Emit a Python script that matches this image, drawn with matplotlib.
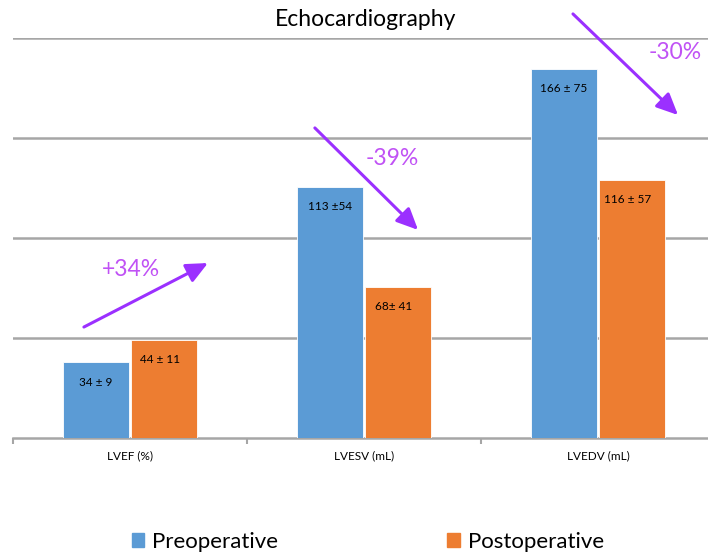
import matplotlib
matplotlib.use("Agg")
import matplotlib.pyplot as plt
import numpy as np
from matplotlib.patches import Patch

categories = ["LVEF (%)", "LVESV (mL)", "LVEDV (mL)"]
pre_values = [34, 113, 166]
post_values = [44, 68, 116]
pre_labels = ["34 \u00b1 9", "113 \u00b154", "166 \u00b1 75"]
post_labels = ["44 \u00b1 11", "68\u00b1 41", "116 \u00b1 57"]
change_labels = ["+34%", "-39%", "-30%"]
series_names = ["Preoperative", "Postoperative"]

plt.rcParams['font.family'] = ['Lato', 'DejaVu Sans']

fig = plt.figure(figsize=(7.08, 5.53), dpi=100)
ax = fig.add_axes([13/708, (553-437.7)/553, 702/708, 400/553])

blue = "#5B9BD5"
orange = "#ED7D31"
x = np.arange(len(categories))
w = 0.28
off = 0.145
ax.bar(x - off, pre_values, w, color=blue, edgecolor="white", linewidth=0.6, zorder=3)
ax.bar(x + off, post_values, w, color=orange, edgecolor="white", linewidth=0.6, zorder=3)

for i in range(len(categories)):
    ax.annotate(pre_labels[i], (x[i] - off, pre_values[i]), xytext=(0, -20),
                textcoords="offset pixels", ha="center", va="center", fontsize=8.5, color="black", zorder=4)
    ax.annotate(post_labels[i], (x[i] + off, post_values[i]), xytext=(-4, -20),
                textcoords="offset pixels", ha="center", va="center", fontsize=8.5, color="black", zorder=4)

ax.set_xlim(-0.5, 2.5)
ax.set_ylim(0, 180)
ax.set_yticks([45, 90, 135, 180])
ax.yaxis.grid(True, color="#A6A6A6", linewidth=1.8, zorder=0)
ax.tick_params(axis="y", length=0, labelleft=False)
for s in ["left", "right", "top"]:
    ax.spines[s].set_visible(False)
ax.spines["bottom"].set_color("#A6A6A6")
ax.spines["bottom"].set_linewidth(1.8)
ax.set_xticks(x)
ax.set_xticklabels(categories, fontsize=8.5)
ax.tick_params(axis="x", which="major", length=0, pad=9)
ax.set_xticks([-0.5, 0.5, 1.5, 2.5], minor=True)
ax.tick_params(axis="x", which="minor", length=4, width=1.5, color="#A6A6A6")

fig.text(366/708, 1 - 20/553, "Echocardiography", ha="center", va="center", fontsize=16.5)

arrow_color = "#9B30FF"
text_color = "#C052F5"
arrows = [((-0.197, 49.8), (0.333, 78.6)),
          ((0.79, 139.4), (1.231, 93.5)),
          ((1.893, 190.7), (2.342, 145.2))]
text_pos = [(0.004, 75.5), (1.12, 125.8), (2.33, 173.5)]
for (start, end), tp, lab in zip(arrows, text_pos, change_labels):
    ax.annotate("", xy=end, xytext=start, annotation_clip=False,
                arrowprops=dict(arrowstyle="-|>,head_length=1.3,head_width=0.6",
                                color=arrow_color, lw=2.2, shrinkA=0, shrinkB=0), zorder=5)
    ax.text(tp[0], tp[1], lab, ha="center", va="center", fontsize=16.5, color=text_color, zorder=5)

handles = [Patch(color=blue), Patch(color=orange)]
fig.legend(handles, series_names, loc="center", bbox_to_anchor=(368/708, 1 - 542/553),
           ncol=2, frameon=False, fontsize=16, handlelength=0.55, handleheight=0.55,
           handletextpad=0.36, columnspacing=7.6, borderpad=0, borderaxespad=0)

fig.savefig("out.png", dpi=100)
